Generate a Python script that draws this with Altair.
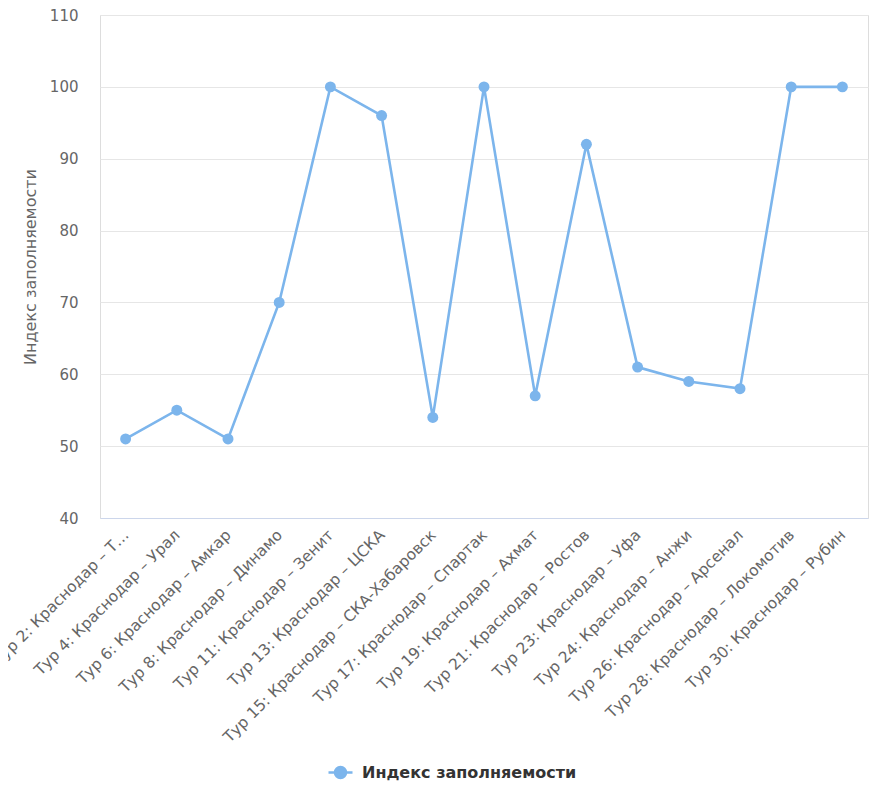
import altair as alt
import pandas as pd

categories = [
    "Тур 2: Краснодар – Т…",
    "Тур 4: Краснодар – Урал",
    "Тур 6: Краснодар – Амкар",
    "Тур 8: Краснодар – Динамо",
    "Тур 11: Краснодар – Зенит",
    "Тур 13: Краснодар – ЦСКА",
    "Тур 15: Краснодар – СКА-Хабаровск",
    "Тур 17: Краснодар – Спартак",
    "Тур 19: Краснодар – Ахмат",
    "Тур 21: Краснодар – Ростов",
    "Тур 23: Краснодар – Уфа",
    "Тур 24: Краснодар – Анжи",
    "Тур 26: Краснодар – Арсенал",
    "Тур 28: Краснодар – Локомотив",
    "Тур 30: Краснодар – Рубин",
]
values = [51, 55, 51, 70, 100, 96, 54, 100, 57, 92, 61, 59, 58, 100, 100]
series_name = "Индекс заполняемости"
y_ticks = [40, 50, 60, 70, 80, 90, 100, 110]

df = pd.DataFrame({"match": categories, "value": values, "series": series_name})

FONT = "DejaVu Sans"
COLOR = "#7cb5ec"
legend_path = "M-1,0L1,0M-0.46,0A0.46,0.46,0,1,1,0.46,0A0.46,0.46,0,1,1,-0.46,0Z"

chart = (
    alt.Chart(df)
    .mark_line(
        strokeWidth=2.6,
        point=alt.OverlayMarkDef(size=120, filled=True, opacity=1),
    )
    .encode(
        x=alt.X(
            "match:N",
            sort=None,
            scale=alt.Scale(type="point", padding=0.5),
            axis=alt.Axis(
                title=None,
                labelAngle=-45,
                labelAlign="right",
                labelBaseline="middle",
                labelFont=FONT,
                labelFontSize=15.5,
                labelColor="#666666",
                labelPadding=14,
                labelLimit=500,
                ticks=False,
                domainColor="#ccd6eb",
                domainWidth=1,
                grid=False,
            ),
        ),
        y=alt.Y(
            "value:Q",
            scale=alt.Scale(domain=[40, 110], nice=False, zero=False),
            axis=alt.Axis(
                title="Индекс заполняемости",
                titleFont=FONT,
                titleFontSize=16,
                titleFontWeight="normal",
                titleColor="#666666",
                titlePadding=11,
                values=y_ticks,
                labelFont=FONT,
                labelFontSize=15,
                labelColor="#666666",
                labelPadding=22,
                ticks=False,
                domain=False,
                grid=True,
                gridColor="#e6e6e6",
                gridWidth=1,
            ),
        ),
        color=alt.Color(
            "series:N",
            scale=alt.Scale(range=[COLOR]),
            legend=alt.Legend(
                title=None,
                orient="none",
                legendX=227,
                legendY=744,
                symbolType=legend_path,
                symbolSize=576,
                symbolStrokeWidth=2.5,
                symbolFillColor=COLOR,
                symbolStrokeColor=COLOR,
                labelFont=FONT,
                labelFontSize=16,
                labelFontWeight="bold",
                labelColor="#333333",
                labelOffset=8,
                labelLimit=400,
            ),
        ),
    )
    .properties(
        width=768,
        height=503,
        autosize=alt.AutoSizeParams(type="none"),
        padding={"left": 92, "top": 7, "right": 7, "bottom": 283},
    )
    .configure_view(strokeWidth=0)
    .configure(background="white")
)

chart.save("out.html", embed_options={"renderer": "svg", "actions": False})
